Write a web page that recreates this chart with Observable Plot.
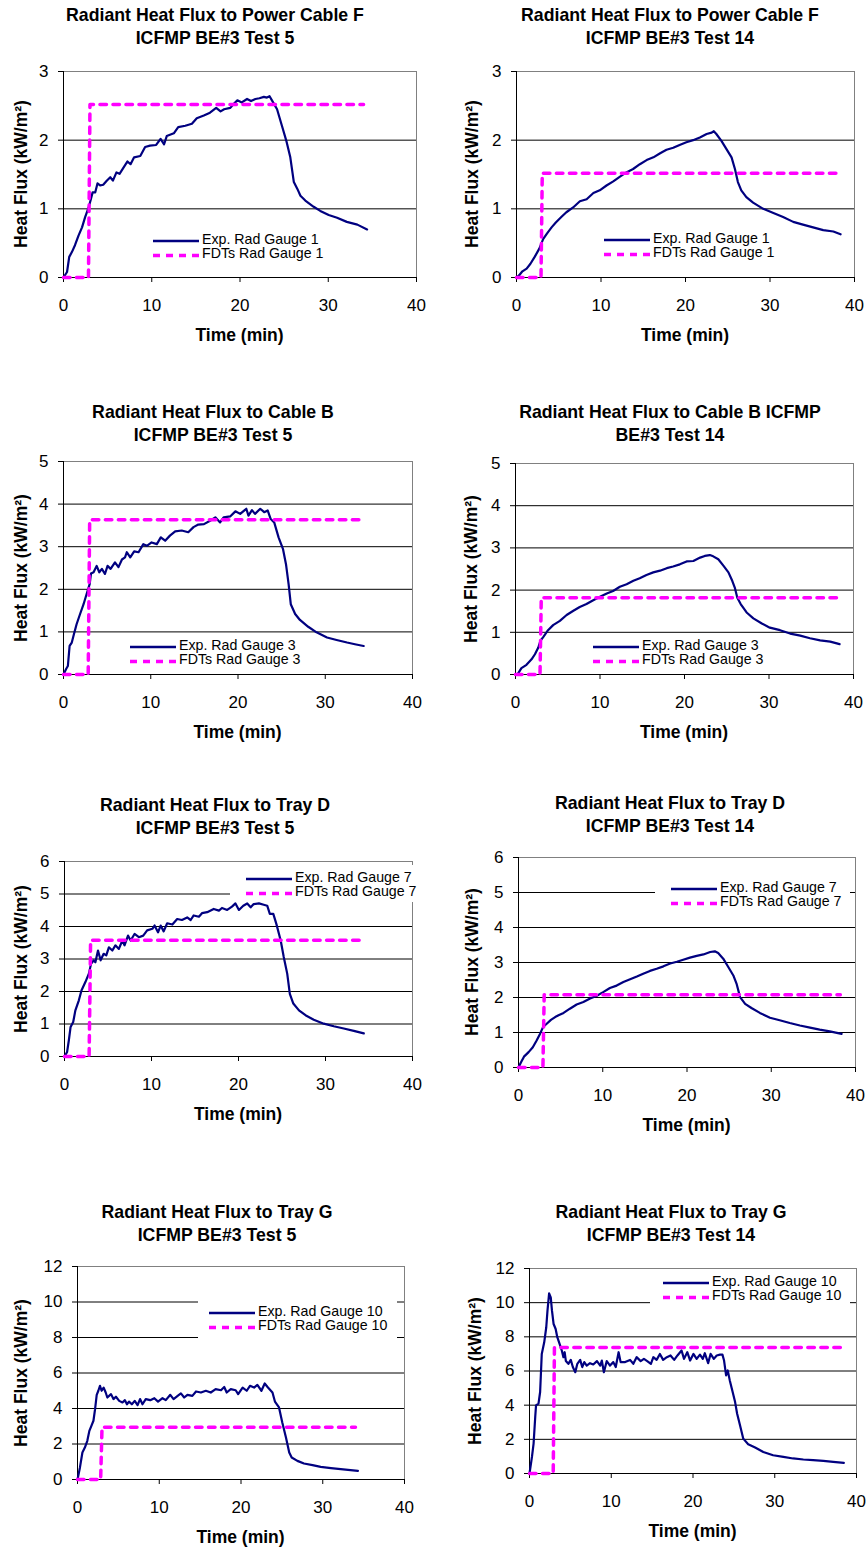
<!DOCTYPE html>
<html><head><meta charset="utf-8">
<script src="https://cdn.jsdelivr.net/npm/d3@7"></script>
<script src="https://cdn.jsdelivr.net/npm/@observablehq/plot@0.6"></script>
<style>
body{margin:0;background:#fff;}
#chart{position:relative;width:866px;height:1549px;background:#fff;font-family:"Liberation Sans",Arial,sans-serif;color:#000;overflow:hidden}
.abs{position:absolute;white-space:nowrap}
.title{font-weight:bold;font-size:17.7px;line-height:20px;transform:translateX(-50%);text-align:center}
.axlab{font-weight:bold;font-size:17.5px;line-height:20px}
.leg{font-size:14.2px;line-height:16px}
</style></head><body><div id="chart"></div><script>
// ---------------- data ----------------
const titles = [
  ["Radiant Heat Flux to Power Cable F", "ICFMP BE#3 Test 5"],
  ["Radiant Heat Flux to Power Cable F", "ICFMP BE#3 Test 14"],
  ["Radiant Heat Flux to Cable B", "ICFMP BE#3 Test 5"],
  ["Radiant Heat Flux to Cable B ICFMP", "BE#3 Test 14"],
  ["Radiant Heat Flux to Tray D", "ICFMP BE#3 Test 5"],
  ["Radiant Heat Flux to Tray D", "ICFMP BE#3 Test 14"],
  ["Radiant Heat Flux to Tray G", "ICFMP BE#3 Test 5"],
  ["Radiant Heat Flux to Tray G", "ICFMP BE#3 Test 14"]
];
const gauges = ["1", "1", "3", "3", "7", "7", "10", "10"];
const xTicks = [0, 10, 20, 30, 40];
const yTickSets = [
  [0, 1, 2, 3], [0, 1, 2, 3],
  [0, 1, 2, 3, 4, 5], [0, 1, 2, 3, 4, 5],
  [0, 1, 2, 3, 4, 5, 6], [0, 1, 2, 3, 4, 5, 6],
  [0, 2, 4, 6, 8, 10, 12], [0, 2, 4, 6, 8, 10, 12]
];
// FDTs predicted levels (kW/m2)
const fdtLevels = [2.52, 1.52, 3.63, 1.82, 3.58, 2.08, 2.95, 7.37];
// FDTs step times (min): zero until stepStart, level from stepEnd to end
const fdtTimesTest5 = [0, 2.83, 3.0, 34.0];
const fdtTimesTest14 = [0, 2.9, 3.05, 38.2];

const expPowerCableF_T5 = [[0,0],[0.4,0.08],[0.65,0.3],[0.95,0.37],[1.3,0.47],[1.7,0.61],[2.1,0.73],[2.45,0.88],[2.85,1.02],[3.1,1.14],[3.3,1.24],[3.6,1.24],[3.85,1.37],[4.15,1.34],[4.5,1.35],[4.9,1.41],[5.3,1.46],[5.6,1.41],[6.0,1.53],[6.35,1.51],[6.8,1.6],[7.25,1.69],[7.6,1.65],[8.0,1.75],[8.7,1.77],[9.25,1.9],[9.8,1.92],[10.5,1.93],[11.0,2.02],[11.4,1.94],[11.7,2.06],[12.5,2.1],[13.0,2.19],[13.8,2.21],[14.55,2.24],[15.1,2.32],[15.9,2.36],[16.6,2.4],[17.3,2.47],[17.8,2.42],[18.2,2.45],[18.9,2.47],[19.3,2.53],[19.7,2.58],[20.2,2.55],[20.8,2.6],[21.25,2.57],[21.75,2.6],[22.2,2.61],[22.7,2.63],[23.05,2.62],[23.35,2.64],[23.75,2.55],[24.2,2.45],[24.75,2.21],[25.25,1.99],[25.7,1.75],[26.1,1.39],[26.5,1.29],[26.85,1.19],[27.4,1.12],[28.35,1.03],[29.1,0.97],[30.05,0.91],[31.0,0.87],[32.1,0.81],[33.3,0.77],[34.4,0.70]];
const expPowerCableF_T14 = [[0,0],[0.3,0.03],[0.7,0.09],[1.2,0.13],[1.65,0.2],[2.15,0.3],[2.7,0.42],[3.15,0.56],[3.6,0.64],[4.15,0.73],[4.65,0.8],[5.3,0.88],[5.9,0.95],[6.7,1.02],[7.5,1.11],[8.3,1.14],[9.1,1.23],[9.85,1.27],[10.65,1.34],[11.45,1.4],[12.25,1.47],[13.0,1.53],[13.8,1.58],[14.6,1.65],[15.4,1.71],[16.2,1.75],[17.0,1.81],[17.75,1.86],[18.55,1.89],[19.3,1.93],[20.1,1.97],[20.9,2.0],[21.7,2.04],[22.5,2.09],[23.1,2.11],[23.35,2.13],[23.65,2.09],[24.25,1.99],[24.85,1.87],[25.45,1.75],[25.85,1.58],[26.2,1.39],[26.6,1.27],[27.2,1.17],[28.0,1.09],[29.2,1.0],[30.4,0.94],[31.55,0.88],[32.75,0.81],[33.9,0.77],[35.1,0.73],[36.3,0.69],[37.5,0.67],[38.35,0.63]];
const expCableB_T5 = [[0,0],[0.3,0.13],[0.5,0.2],[0.7,0.67],[0.95,0.75],[1.2,0.95],[1.5,1.18],[1.9,1.42],[2.3,1.65],[2.65,1.89],[3.0,2.12],[3.15,2.37],[3.45,2.4],[3.8,2.55],[4.1,2.4],[4.4,2.48],[4.75,2.36],[5.05,2.55],[5.4,2.48],[5.9,2.63],[6.3,2.52],[6.7,2.7],[7.05,2.75],[7.25,2.87],[7.65,2.75],[8.1,2.89],[8.6,2.87],[9.15,3.06],[9.55,3.02],[10.1,3.1],[10.7,3.06],[11.15,3.22],[11.65,3.14],[12.2,3.26],[12.8,3.36],[13.55,3.38],[14.3,3.34],[14.9,3.46],[15.45,3.52],[16.1,3.53],[16.8,3.61],[17.4,3.69],[17.95,3.57],[18.35,3.69],[19.1,3.71],[19.7,3.83],[20.25,3.77],[20.95,3.89],[21.2,3.73],[21.6,3.86],[21.95,3.77],[22.55,3.89],[23.0,3.81],[23.4,3.85],[23.75,3.65],[24.15,3.57],[24.65,3.22],[25.15,2.95],[25.5,2.59],[25.8,2.12],[26.05,1.65],[26.55,1.42],[27.1,1.28],[28.05,1.12],[29.0,0.99],[30.2,0.87],[31.3,0.81],[32.5,0.75],[33.4,0.71],[34.4,0.67]];
const expCableB_T14 = [[0,0],[0.3,0.02],[0.7,0.15],[1.3,0.23],[1.9,0.36],[2.3,0.48],[2.7,0.64],[2.95,0.8],[3.3,0.89],[3.85,1.05],[4.45,1.17],[5.25,1.27],[6.05,1.41],[6.85,1.51],[7.6,1.6],[8.4,1.67],[9.2,1.76],[10.0,1.84],[10.8,1.92],[11.55,1.98],[12.35,2.08],[13.15,2.14],[13.95,2.22],[14.7,2.28],[15.5,2.36],[16.3,2.42],[17.1,2.46],[17.9,2.52],[18.65,2.56],[19.45,2.61],[20.25,2.68],[21.05,2.69],[21.85,2.77],[22.4,2.81],[23.0,2.83],[23.4,2.8],[24.0,2.73],[24.6,2.58],[25.2,2.42],[25.65,2.22],[25.95,2.06],[26.25,1.82],[26.65,1.67],[27.35,1.47],[28.15,1.33],[29.15,1.21],[30.1,1.11],[31.3,1.05],[32.5,0.97],[33.7,0.92],[34.85,0.86],[36.05,0.81],[37.25,0.78],[38.35,0.72]];
const expTrayD_T5 = [[0,0],[0.3,0.14],[0.5,0.5],[0.7,0.91],[1.0,1.06],[1.25,1.42],[1.65,1.73],[1.95,2.03],[2.4,2.29],[2.8,2.55],[3.05,2.85],[3.35,2.96],[3.55,2.9],[3.85,3.26],[4.15,2.96],[4.5,3.16],[4.8,3.11],[5.1,3.36],[5.5,3.26],[5.85,3.42],[6.25,3.31],[6.65,3.57],[6.9,3.42],[7.3,3.72],[7.6,3.57],[8.05,3.77],[8.55,3.67],[9.05,3.72],[9.5,3.88],[10.1,3.93],[10.35,4.03],[10.75,3.82],[11.05,4.03],[11.4,3.85],[11.8,4.1],[12.4,4.06],[12.95,4.23],[13.5,4.2],[14.1,4.28],[14.5,4.2],[14.85,4.34],[15.45,4.3],[15.8,4.41],[16.4,4.44],[17.15,4.54],[17.75,4.49],[18.1,4.57],[18.7,4.51],[19.25,4.61],[19.65,4.71],[20.05,4.51],[20.55,4.64],[21.0,4.71],[21.4,4.59],[21.75,4.69],[22.35,4.71],[22.9,4.67],[23.3,4.64],[23.6,4.39],[24.0,4.39],[24.35,4.08],[24.85,3.57],[25.2,3.06],[25.6,2.55],[25.9,1.93],[26.3,1.63],[26.95,1.42],[27.7,1.27],[28.65,1.13],[29.8,1.01],[30.95,0.93],[32.1,0.86],[33.25,0.79],[34.4,0.71]];
const expTrayD_T14 = [[0,0],[0.3,0.15],[0.65,0.31],[1.2,0.44],[1.7,0.58],[2.15,0.77],[2.55,0.96],[2.95,1.17],[3.35,1.25],[3.85,1.36],[4.35,1.44],[4.75,1.49],[5.35,1.56],[6.1,1.68],[6.9,1.8],[7.7,1.87],[8.5,1.97],[9.3,2.05],[10.1,2.16],[10.85,2.27],[11.65,2.34],[12.45,2.44],[13.25,2.52],[14.05,2.6],[14.8,2.68],[15.6,2.76],[16.4,2.82],[17.2,2.89],[18.0,2.97],[18.8,3.02],[19.55,3.08],[20.35,3.14],[21.15,3.19],[21.95,3.23],[22.75,3.3],[23.3,3.32],[23.7,3.27],[24.3,3.11],[24.9,2.87],[25.5,2.63],[25.9,2.38],[26.3,2.01],[26.9,1.82],[27.65,1.7],[28.65,1.56],[29.85,1.42],[31.0,1.35],[32.2,1.27],[33.4,1.2],[34.6,1.14],[35.75,1.08],[36.95,1.03],[38.35,0.96]];
const expTrayG_T5 = [[0,0],[0.3,0.68],[0.6,1.52],[0.9,1.8],[1.2,2.18],[1.45,2.74],[1.7,3.02],[1.95,3.31],[2.15,3.96],[2.35,4.77],[2.55,5.0],[2.75,5.28],[2.95,5.0],[3.2,5.18],[3.45,4.9],[3.65,4.62],[4.1,4.81],[4.4,4.53],[4.7,4.66],[5.1,4.43],[5.5,4.34],[5.8,4.47],[6.05,4.24],[6.3,4.39],[6.65,4.24],[7.0,4.43],[7.35,4.19],[7.65,4.53],[7.95,4.24],[8.35,4.53],[8.9,4.47],[9.4,4.58],[9.85,4.39],[10.4,4.58],[10.8,4.47],[11.35,4.77],[11.75,4.53],[12.25,4.71],[12.65,4.85],[13.05,4.62],[13.45,4.77],[14.05,4.71],[14.5,4.96],[15.1,4.9],[15.7,5.0],[16.3,4.9],[16.9,5.09],[17.55,5.03],[17.95,5.21],[18.25,4.9],[18.75,5.09],[19.35,5.03],[19.65,4.81],[20.2,5.18],[20.7,5.0],[21.1,5.28],[21.6,5.18],[22.0,5.33],[22.5,5.0],[22.9,5.41],[23.3,5.18],[23.85,4.9],[24.15,4.39],[24.65,4.06],[25.05,3.21],[25.5,2.37],[25.9,1.52],[26.2,1.24],[26.9,1.05],[27.7,0.9],[28.75,0.81],[29.75,0.71],[31.0,0.64],[32.2,0.58],[33.4,0.53],[34.3,0.49]];
const expTrayG_T14 = [[0,0],[0.3,0.97],[0.5,1.75],[0.7,3.31],[0.8,3.99],[1.1,4.09],[1.3,4.77],[1.5,7.0],[1.8,7.68],[2.05,8.56],[2.2,9.53],[2.4,10.54],[2.6,10.31],[2.75,9.53],[2.95,8.75],[3.2,8.46],[3.4,7.98],[3.65,7.63],[3.95,7.2],[4.15,6.81],[4.3,7.1],[4.45,6.58],[4.75,6.42],[5.05,6.65],[5.3,6.23],[5.6,5.93],[5.85,6.42],[6.2,6.65],[6.45,6.23],[6.7,6.52],[7.0,6.32],[7.4,6.46],[7.8,6.38],[8.25,6.58],[8.65,6.32],[8.85,6.61],[9.1,5.93],[9.45,6.58],[9.85,6.32],[10.25,6.52],[10.55,6.23],[10.9,7.1],[11.15,6.52],[11.7,6.52],[12.3,6.65],[12.7,6.42],[13.1,6.81],[13.6,6.58],[14.0,6.71],[14.4,6.58],[14.85,6.42],[15.15,6.81],[15.55,6.65],[15.95,7.0],[16.35,6.65],[16.8,6.81],[17.25,6.91],[17.7,6.65],[18.1,6.91],[18.6,7.2],[18.9,6.71],[19.3,7.1],[19.65,6.61],[20.05,7.0],[20.45,6.71],[20.85,6.96],[21.2,6.71],[21.45,7.04],[21.85,6.46],[22.15,7.0],[22.55,6.71],[22.9,6.91],[23.3,6.96],[23.6,6.96],[23.8,6.61],[24.05,5.74],[24.25,6.03],[24.5,5.45],[24.85,4.77],[25.15,4.18],[25.4,3.5],[25.75,2.82],[26.15,2.04],[26.75,1.71],[27.6,1.52],[28.6,1.26],[29.8,1.07],[31.05,0.97],[32.25,0.88],[33.5,0.82],[34.7,0.78],[35.95,0.74],[37.15,0.68],[38.45,0.62]];

const expSeries = [expPowerCableF_T5, expPowerCableF_T14, expCableB_T5, expCableB_T14, expTrayD_T5, expTrayD_T14, expTrayG_T5, expTrayG_T14];

// ---------------- layout (page pixels) ----------------
const layout = [
  {col:0,   fx0:63,  fx1:416, fy0:71,   fy1:277,  ty:15,   tcx:215, ylx:21,  leg:{sx:153, y:239,  box:[150,230,330,263]}},
  {col:433, fx0:516, fx1:854, fy0:71,   fy1:277,  ty:15,   tcx:670, ylx:472, leg:{sx:604, y:238,  box:[600,229,780,262]}},
  {col:0,   fx0:63,  fx1:412, fy0:461,  fy1:674,  ty:412,  tcx:213, ylx:21,  leg:{sx:130, y:645,  box:[127,636,305,668]}},
  {col:433, fx0:515, fx1:853, fy0:463,  fy1:674,  ty:412,  tcx:670, ylx:471, leg:{sx:593, y:645,  box:[590,636,770,668]}},
  {col:0,   fx0:64,  fx1:412, fy0:861,  fy1:1056, ty:805,  tcx:215, ylx:21,  leg:{sx:246, y:877,  box:[230,865,419,902]}},
  {col:433, fx0:518, fx1:855, fy0:857,  fy1:1067, ty:803,  tcx:670, ylx:472, leg:{sx:671, y:887,  box:[655,876,850,912]}},
  {col:0,   fx0:77,  fx1:404, fy0:1266, fy1:1479, ty:1212, tcx:217, ylx:21,  leg:{sx:209, y:1311, box:[198,1298,397,1340]}},
  {col:433, fx0:529, fx1:856, fy0:1268, fy1:1473, ty:1212, tcx:671, ylx:475, leg:{sx:663, y:1281, box:[650,1270,850,1306]}}
];

const FONT = '"Liberation Sans", Arial, sans-serif';
const EXP_COLOR = "#000080", FDT_COLOR = "#FF00FF";
const root = document.getElementById("chart");

function addDiv(cls, text, css) {
  const d = document.createElement("div");
  d.className = "abs " + cls;
  d.textContent = text;
  Object.assign(d.style, css);
  root.appendChild(d);
  return d;
}

layout.forEach((L, i) => {
  const yT = yTickSets[i];
  const yMax = yT[yT.length - 1];
  const ft = (i % 2 === 0) ? fdtTimesTest5 : fdtTimesTest14;
  const lvl = fdtLevels[i];
  const fdt = [[ft[0], 0], [ft[1], 0], [ft[2], lvl], [ft[3], lvl]];
  const exp = expSeries[i];

  // titles
  addDiv("title", titles[i][0], {left: L.tcx + "px", top: (L.ty - 10) + "px"});
  addDiv("title", titles[i][1], {left: L.tcx + "px", top: (L.ty + 13) + "px"});

  const mt = 20, mb = 60;
  const svg = Plot.plot({
    width: 433,
    height: (L.fy1 - L.fy0) + mt + mb,
    marginLeft: L.fx0 - L.col,
    marginRight: L.col + 433 - L.fx1,
    marginTop: mt,
    marginBottom: mb,
    style: {fontFamily: FONT, fontSize: "17px", background: "transparent", color: "#000", overflow: "visible"},
    x: {domain: [0, 40]},
    y: {domain: [0, yMax]},
    marks: [
      Plot.frame({stroke: "#808080"}),
      Plot.gridY(yT.filter(d => d > 0 && d < yMax), {stroke: "#000", strokeOpacity: 1, strokeWidth: 1}),
      Plot.ruleY([0], {stroke: "#000"}),
      Plot.ruleX([0], {stroke: "#000"}),
      Plot.axisX(xTicks, {tickSize: 5, tickPadding: 16, fontSize: 17, fontFamily: FONT, tickFormat: d => String(d), label: null, stroke: "#000", fill: "#000"}),
      Plot.axisY(yT, {tickSize: 5, tickPadding: 10, fontSize: 17, fontFamily: FONT, tickFormat: d => String(d), label: null, stroke: "#000", fill: "#000"}),
      Plot.line(exp, {x: d => d[0], y: d => d[1], stroke: EXP_COLOR, strokeWidth: 2.2, curve: "linear"}),
      Plot.line(fdt, {x: d => d[0], y: d => d[1], stroke: FDT_COLOR, strokeWidth: 3.5, strokeDasharray: "6.5,6.5"})
    ]
  });
  svg.style.position = "absolute";
  svg.style.left = L.col + "px";
  svg.style.top = (L.fy0 - mt) + "px";
  root.appendChild(svg);

  // axis titles
  addDiv("axlab", "Heat Flux (kW/m²)", {left: L.ylx + "px", top: ((L.fy0 + L.fy1) / 2) + "px", transform: "translate(-50%,-50%) rotate(-90deg)"});
  addDiv("axlab", "Time (min)", {left: ((L.fx0 + L.fx1) / 2) + "px", top: (L.fy1 + 58) + "px", transform: "translate(-50%,-50%)"});

  // legend
  const g = L.leg, b = g.box;
  const box = document.createElement("div");
  box.className = "abs";
  Object.assign(box.style, {left: b[0] + "px", top: b[1] + "px", width: (b[2] - b[0]) + "px", height: (b[3] - b[1]) + "px", background: "#fff"});
  root.appendChild(box);
  const ns = "http://www.w3.org/2000/svg";
  const sw = document.createElementNS(ns, "svg");
  sw.setAttribute("width", 48); sw.setAttribute("height", 40);
  Object.assign(sw.style, {position: "absolute", left: g.sx + "px", top: (g.y - 10) + "px"});
  const l1 = document.createElementNS(ns, "line");
  l1.setAttribute("x1", 0); l1.setAttribute("x2", 46); l1.setAttribute("y1", 12); l1.setAttribute("y2", 12);
  l1.setAttribute("stroke", EXP_COLOR); l1.setAttribute("stroke-width", 2.4);
  const l2 = document.createElementNS(ns, "line");
  l2.setAttribute("x1", 0); l2.setAttribute("x2", 46); l2.setAttribute("y1", 26.5); l2.setAttribute("y2", 26.5);
  l2.setAttribute("stroke", FDT_COLOR); l2.setAttribute("stroke-width", 3.5); l2.setAttribute("stroke-dasharray", "7,6");
  sw.appendChild(l1); sw.appendChild(l2);
  root.appendChild(sw);
  addDiv("leg", "Exp. Rad Gauge " + gauges[i], {left: (g.sx + 49) + "px", top: (g.y - 8) + "px"});
  addDiv("leg", "FDTs Rad Gauge " + gauges[i], {left: (g.sx + 49) + "px", top: (g.y - 8 + 14.3) + "px"});
});
</script></body></html>
